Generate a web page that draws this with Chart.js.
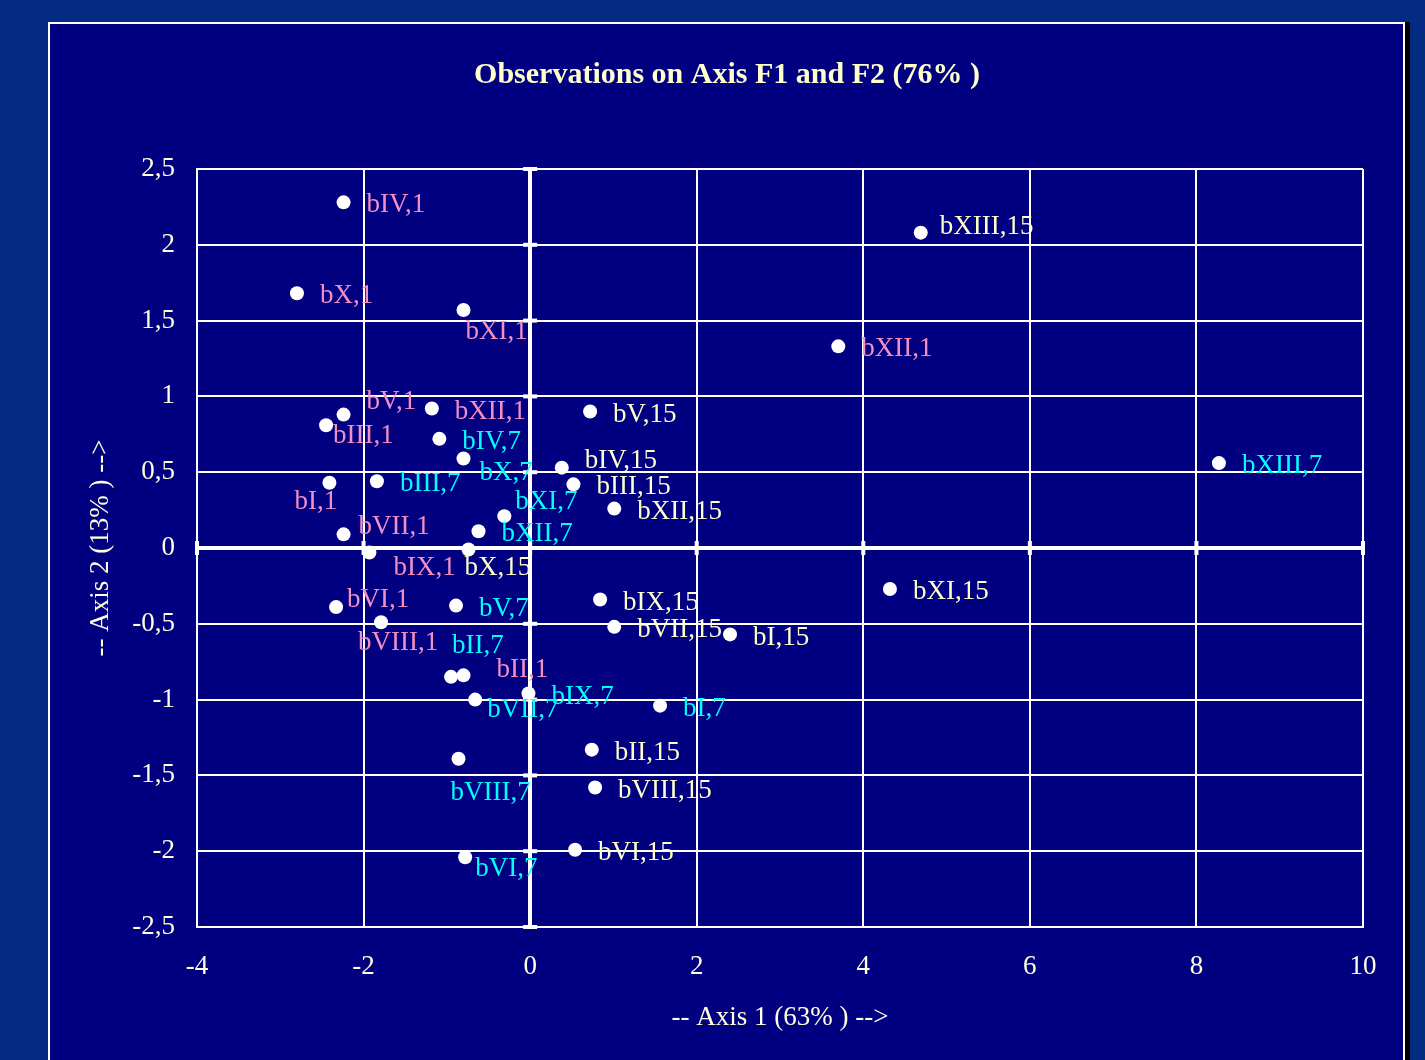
<!DOCTYPE html>
<html>
<head>
<meta charset="utf-8">
<script src="https://cdn.jsdelivr.net/npm/chart.js@4.4.1/dist/chart.umd.min.js"></script>
<style>
    html, body { margin: 0; padding: 0; background: #032b82; overflow: hidden; }
    #panel {
        position: absolute; left: 48px; top: 22px; width: 1353px; height: 1100px;
        background: #000080; border: 2px solid #fff; box-shadow: 5px 0 0 #000;
    }
    #wrap { position: absolute; left: 0; top: 0; width: 1425px; height: 1060px; }
</style>
</head>
<body>
<div id="panel"></div>
<div id="wrap"><canvas id="mapChart" width="1425" height="1060"></canvas></div>
<script>
/* Observations on Axis F1 and F2 - scatter with point labels */

const NAMES_1 = ['bI,1', 'bII,1', 'bIII,1', 'bIV,1', 'bV,1', 'bVI,1', 'bVII,1', 'bVIII,1', 'bIX,1', 'bX,1', 'bXI,1', 'bXII,1', 'bXII,1'];
const X_1 = [-2.41, -0.80, -2.45, -2.24, -2.24, -2.33, -2.24, -1.79, -1.93, -2.80, -0.80, 3.70, -1.18];
const Y_1 = [0.43, -0.84, 0.81, 2.28, 0.88, -0.39, 0.09, -0.49, -0.03, 1.68, 1.57, 1.33, 0.92];

const NAMES_7 = ['bI,7', 'bII,7', 'bIII,7', 'bIV,7', 'bV,7', 'bVI,7', 'bVII,7', 'bVIII,7', 'bIX,7', 'bX,7', 'bXI,7', 'bXII,7', 'bXIII,7'];
const X_7 = [1.56, -0.95, -1.84, -1.09, -0.89, -0.78, -0.66, -0.86, -0.02, -0.80, -0.31, -0.62, 8.27];
const Y_7 = [-1.04, -0.85, 0.44, 0.72, -0.38, -2.04, -1.00, -1.39, -0.96, 0.59, 0.21, 0.11, 0.56];

const NAMES_15 = ['bI,15', 'bII,15', 'bIII,15', 'bIV,15', 'bV,15', 'bVI,15', 'bVII,15', 'bVIII,15', 'bIX,15', 'bX,15', 'bXI,15', 'bXII,15', 'bXIII,15'];
const X_15 = [2.40, 0.74, 0.52, 0.38, 0.72, 0.54, 1.01, 0.78, 0.84, -0.74, 4.32, 1.01, 4.69];
const Y_15 = [-0.57, -1.33, 0.42, 0.53, 0.90, -1.99, -0.52, -1.58, -0.34, -0.01, -0.27, 0.26, 2.08];

const X_TICKS = [-4, -2, 0, 2, 4, 6, 8, 10];
const Y_TICKS = [-2.5, -2, -1.5, -1, -0.5, 0, 0.5, 1, 1.5, 2, 2.5];

const TITLE = 'Observations on Axis F1 and F2 (76% )';
const X_TITLE = '-- Axis 1 (63% ) -->';
const Y_TITLE = '-- Axis 2 (13% ) -->';

// label offsets from the dot, [dx, dy]; anything missing sits to the right
const LABEL_SHIFT = {
    0: { 0: [-35, 19], 1: [33, -5], 2: [7, 11], 4: [23, -13], 5: [11, -7], 6: [15, -7], 7: [-23, 21], 8: [24, 15], 10: [2, 22] },
    1: { 1: [1, -31], 6: [12, 10], 7: [-8, 34], 5: [10, 12], 9: [16, 14], 10: [11, -14] },
    2: { 3: [23, -7], 9: [-4, 18], 12: [19, -6] },
};

const SERIF = "'Liberation Serif', 'Times New Roman', serif";
const TEXT_COLOR = '#ffffe0';

function toPoints(xs, ys) {
    return xs.map((x, i) => ({ x, y: ys[i] }));
}

const pointLabels = {
    id: 'pointLabels',
    afterDatasetsDraw(chart) {
        const ctx = chart.ctx;
        ctx.save();
        ctx.font = '27px ' + SERIF;
        ctx.textAlign = 'left';
        ctx.textBaseline = 'middle';
        chart.data.datasets.forEach((ds, di) => {
            const meta = chart.getDatasetMeta(di);
            ctx.fillStyle = ds.labelColor;
            meta.data.forEach((pt, i) => {
                const shift = (LABEL_SHIFT[di] && LABEL_SHIFT[di][i]) || [23, 3];
                ctx.fillText(ds.names[i], pt.x + shift[0], pt.y + shift[1]);
            });
        });
        ctx.restore();
    },
};

const axisDecor = {
    id: 'axisDecor',
    beforeDatasetsDraw(chart) {
        const { ctx, scales: { x, y } } = chart;
        const x0 = x.getPixelForValue(0);
        const y0 = y.getPixelForValue(0);
        ctx.save();
        ctx.fillStyle = '#ffffff';
        Y_TICKS.forEach(v => {
            const py = y.getPixelForValue(v);
            ctx.fillRect(x0 - 7, py - 2, 14, 4);
        });
        X_TICKS.forEach(v => {
            const px = x.getPixelForValue(v);
            ctx.fillRect(px - 2, y0 - 7, 4, 14);
        });
        ctx.restore();
    },
    afterDraw(chart) {
        const { ctx, chartArea } = chart;
        const cx = (chartArea.left + chartArea.right) / 2;
        const cy = (chartArea.top + chartArea.bottom) / 2;
        ctx.save();
        ctx.textAlign = 'center';
        ctx.textBaseline = 'middle';
        ctx.fillStyle = '#ffffcc';
        ctx.font = 'bold 30px ' + SERIF;
        ctx.fillText(TITLE, 727, 75);
        ctx.fillStyle = TEXT_COLOR;
        ctx.font = '27px ' + SERIF;
        ctx.fillText(X_TITLE, cx, 1018);
        ctx.translate(101, cy);
        ctx.rotate(-Math.PI / 2);
        ctx.fillText(Y_TITLE, 0, 0);
        ctx.restore();
    },
};

const decimalComma = v => String(v).replace('.', ',');

new Chart(document.getElementById('mapChart'), {
    type: 'scatter',
    data: {
        datasets: [
            { names: NAMES_1, labelColor: '#f48fc4', data: toPoints(X_1, Y_1) },
            { names: NAMES_7, labelColor: '#00ffff', data: toPoints(X_7, Y_7) },
            { names: NAMES_15, labelColor: '#ffffcc', data: toPoints(X_15, Y_15) },
        ].map(ds => Object.assign(ds, {
            pointRadius: 7,
            pointHoverRadius: 7,
            pointBackgroundColor: '#ffffff',
            pointBorderWidth: 0,
        })),
    },
    options: {
        responsive: false,
        animation: false,
        layout: { padding: { top: 169, right: 62, left: 0, bottom: 0 } },
        scales: {
            x: {
                type: 'linear',
                min: -4,
                max: 10,
                afterFit: s => { s.height = 133; },
                afterBuildTicks: s => { s.ticks = X_TICKS.map(v => ({ value: v })); },
                ticks: { color: TEXT_COLOR, font: { family: SERIF, size: 27 }, padding: 24, callback: decimalComma },
                grid: {
                    color: '#ffffff',
                    lineWidth: c => (c.tick && c.tick.value === 0 ? 4 : 2),
                    drawTicks: false,
                },
                border: { display: true, color: '#ffffff', width: 2 },
            },
            y: {
                type: 'linear',
                min: -2.5,
                max: 2.5,
                afterFit: s => { s.width = 197; },
                afterBuildTicks: s => { s.ticks = Y_TICKS.map(v => ({ value: v })); },
                ticks: { color: TEXT_COLOR, font: { family: SERIF, size: 27 }, padding: 22, callback: decimalComma },
                grid: {
                    color: '#ffffff',
                    lineWidth: c => (c.tick && c.tick.value === 0 ? 4 : 2),
                    drawTicks: false,
                },
                border: { display: true, color: '#ffffff', width: 2 },
            },
        },
        plugins: {
            legend: { display: false },
            tooltip: { enabled: false },
        },
    },
    plugins: [axisDecor, pointLabels],
});
</script>
</body>
</html>
